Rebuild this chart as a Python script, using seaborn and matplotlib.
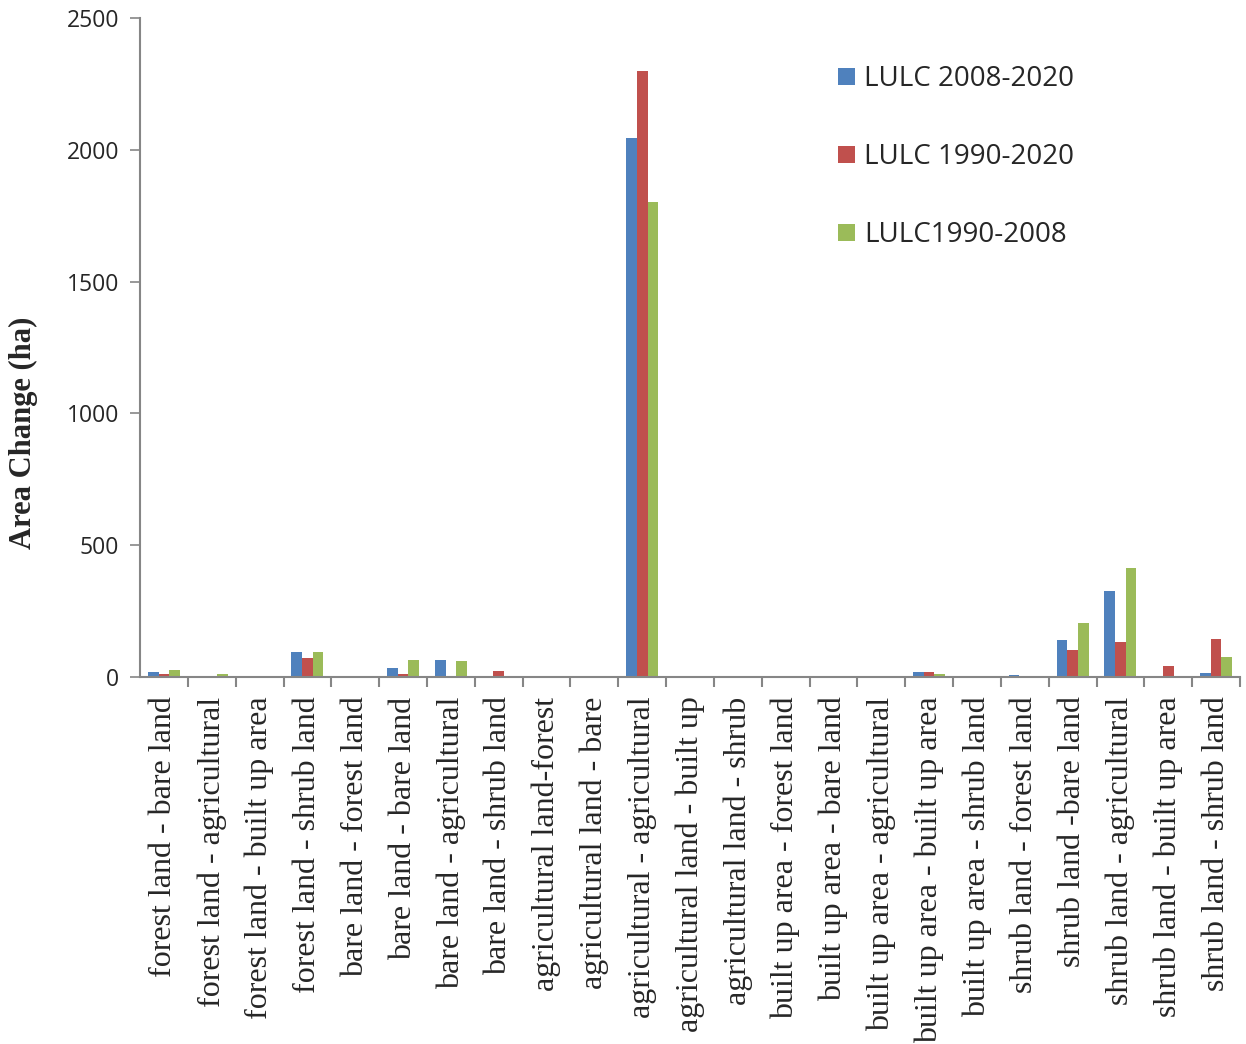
import matplotlib
matplotlib.use("Agg")
import matplotlib.pyplot as plt
import seaborn as sns
import pandas as pd
from matplotlib.ticker import FixedLocator

categories = [
    "forest land - bare land",
    "forest land - agricultural",
    "forest land - built up area",
    "forest land - shrub land",
    "bare land - forest land",
    "bare land - bare land",
    "bare land - agricultural",
    "bare land - shrub land",
    "agricultural land-forest",
    "agricultural land - bare",
    "agricultural - agricultural",
    "agricultural land - built up",
    "agricultural land - shrub",
    "built up area - forest land",
    "built up area - bare land",
    "built up area - agricultural",
    "built up area - built up area",
    "built up area - shrub land",
    "shrub land - forest land",
    "shrub land -bare land",
    "shrub land - agricultural",
    "shrub land - built up area",
    "shrub land - shrub land",
]

series_names = ["LULC 2008-2020", "LULC 1990-2020", "LULC1990-2008"]

lulc_2008_2020 = [20, 0, 0, 96, 0, 33, 64, 0, 0, 0, 2045, 0, 0, 0, 0, 0, 20, 0, 6, 139, 325, 3, 15]
lulc_1990_2020 = [13, 0, 0, 71, 0, 13, 4, 22, 0, 0, 2300, 0, 0, 0, 0, 0, 20, 0, 3, 101, 132, 41, 143]
lulc_1990_2008 = [27, 11, 4, 94, 0, 63, 60, 5, 0, 0, 1800, 0, 0, 0, 0, 0, 13, 0, 0, 205, 415, 3, 76]

colors = ["#4F81BD", "#C0504D", "#9BBB59"]

frames = []
for name, vals in zip(series_names, [lulc_2008_2020, lulc_1990_2020, lulc_1990_2008]):
    frames.append(pd.DataFrame({"category": categories, "series": name, "value": vals}))
df = pd.concat(frames, ignore_index=True)

sns.set_style("white")
fig = plt.figure(figsize=(12.46, 10.44), dpi=100)
ax = fig.add_axes([0.1124, 0.3515, 0.8828, 0.6313])

sns.barplot(data=df, x="category", y="value", hue="series", order=categories,
            hue_order=series_names, palette=colors, width=0.67, saturation=1,
            errorbar=None, ax=ax, edgecolor="none")

axis_gray = "#868686"
ax.set_xlim(-0.5, len(categories) - 0.5)
ax.set_ylim(0, 2500)
ax.set_yticks([0, 500, 1000, 1500, 2000, 2500])
ax.tick_params(axis="y", labelsize=16.5, length=7, width=1.2, color=axis_gray,
               pad=8, direction="out", left=True)
for lbl in ax.get_yticklabels():
    lbl.set_fontfamily("Open Sans")

# category tick marks sit between groups
ax.xaxis.set_minor_locator(FixedLocator([i + 0.5 for i in range(len(categories))]))
ax.tick_params(axis="x", which="major", length=0, pad=14)
ax.tick_params(axis="x", which="minor", length=7.5, width=1.5, color=axis_gray,
               direction="out", bottom=True)
ax.set_xticks(range(len(categories)))
ax.set_xticklabels(categories, rotation=90, fontsize=23, fontfamily="Liberation Serif",
                   ha="center", va="top")

ax.set_xlabel("")
ax.set_ylabel("Area Change (ha)", fontsize=22, fontweight="bold",
              fontfamily="Liberation Serif")
ax.yaxis.set_label_coords(-0.093, 0.37)

for side in ["top", "right"]:
    ax.spines[side].set_visible(False)
for side in ["left", "bottom"]:
    ax.spines[side].set_color(axis_gray)
    ax.spines[side].set_linewidth(1.5)

leg = ax.legend(loc="upper left", bbox_to_anchor=(0.6245, 0.945), frameon=False,
                fontsize=20, handlelength=0.6, handleheight=0.6,
                handletextpad=0.35, labelspacing=1.8, borderaxespad=0)
for t in leg.get_texts():
    t.set_fontfamily("Open Sans")

fig.savefig("out.png", dpi=100)
